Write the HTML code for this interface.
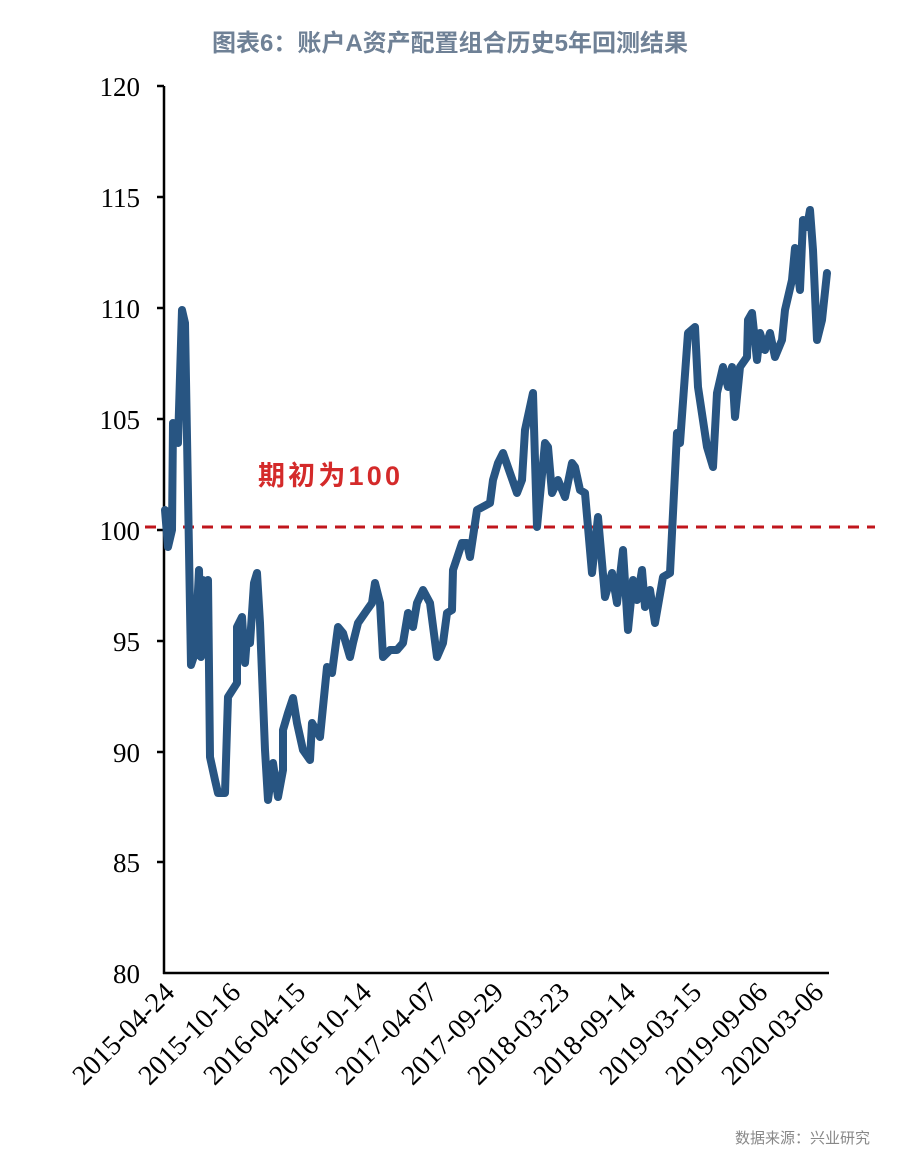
<!DOCTYPE html>
<html><head><meta charset="utf-8"><style>body{margin:0;background:#fff}svg{display:block}</style></head>
<body>
<svg width="900" height="1159" xmlns="http://www.w3.org/2000/svg">
<text x="450" y="51" text-anchor="middle" font-family="Liberation Sans, Noto Sans CJK SC, sans-serif" font-size="24" font-weight="bold" fill="#6f8196">图表6：账户A资产配置组合历史5年回测结果</text>
<g font-family="Liberation Serif, serif" font-size="27" fill="#000" text-anchor="end">
<text x="140" y="96">120</text><text x="140" y="207">115</text><text x="140" y="318">110</text><text x="140" y="429">105</text><text x="140" y="540">100</text><text x="140" y="651">95</text><text x="140" y="762">90</text><text x="140" y="872">85</text><text x="140" y="983">80</text>
</g>
<g stroke="#000" stroke-width="2.5">
<line x1="164" y1="86" x2="164" y2="974"/><line x1="163" y1="973" x2="829" y2="973"/>
<line x1="157" y1="86" x2="164" y2="86"/><line x1="157" y1="197" x2="164" y2="197"/><line x1="157" y1="308" x2="164" y2="308"/><line x1="157" y1="419" x2="164" y2="419"/><line x1="157" y1="530" x2="164" y2="530"/><line x1="157" y1="641" x2="164" y2="641"/><line x1="157" y1="752" x2="164" y2="752"/><line x1="157" y1="862" x2="164" y2="862"/>
</g>
<line x1="145" y1="527" x2="875" y2="527" stroke="#c0161c" stroke-width="3" stroke-dasharray="11,8"/>
<text x="258" y="485" font-family="Liberation Sans, Noto Sans CJK SC, sans-serif" font-size="27" font-weight="bold" fill="#d42a2a" textLength="142">期初为100</text>
<polyline fill="none" stroke="#285582" stroke-width="8" stroke-linejoin="round" stroke-linecap="round" points="165,510 168,547 172,530 173,423 178,443 182,310 185,323 191,665 195,653 199,570 201,657 203,580 205,653 208,580 210,757 215,780 218,793 225,793 228,697 237,683 237,627 242,617 245,663 247,637 250,643 254,583 257,573 260,623 265,750 268,800 273,763 278,797 283,770 283,730 288,713 293,698 297,723 303,750 310,760 312,723 320,737 327,667 332,673 338,627 343,633 350,657 353,643 358,623 367,610 372,603 375,583 380,603 383,657 390,650 397,650 403,643 408,613 413,627 417,603 423,590 430,603 437,657 443,643 447,613 452,610 453,570 462,543 467,543 470,557 477,510 490,503 493,480 498,463 503,453 510,473 517,493 522,480 525,430 533,393 537,527 545,443 548,447 552,493 558,480 565,497 572,463 575,467 580,490 585,493 592,573 598,517 605,597 612,573 617,603 623,550 628,630 633,580 637,600 642,570 645,607 650,590 655,623 663,577 670,573 677,433 680,443 688,333 695,327 698,387 707,447 713,467 717,393 723,367 728,387 732,367 735,417 740,367 747,357 748,320 752,313 757,360 760,333 765,350 770,333 775,357 782,340 785,310 792,280 795,248 800,290 803,220 807,227 810,210 813,250 817,340 822,320 827,273"/>
<g font-family="Liberation Serif, serif" font-size="28" fill="#000" text-anchor="end">
<text transform="translate(176,994) rotate(-45)">2015-04-24</text>
<text transform="translate(242,994) rotate(-45)">2015-10-16</text>
<text transform="translate(307,994) rotate(-45)">2016-04-15</text>
<text transform="translate(373,994) rotate(-45)">2016-10-14</text>
<text transform="translate(439,994) rotate(-45)">2017-04-07</text>
<text transform="translate(505,994) rotate(-45)">2017-09-29</text>
<text transform="translate(571,994) rotate(-45)">2018-03-23</text>
<text transform="translate(637,994) rotate(-45)">2018-09-14</text>
<text transform="translate(703,994) rotate(-45)">2019-03-15</text>
<text transform="translate(769,994) rotate(-45)">2019-09-06</text>
<text transform="translate(825,994) rotate(-45)">2020-03-06</text>
</g>
<text x="870" y="1143" text-anchor="end" font-family="Liberation Sans, Noto Sans CJK SC, sans-serif" font-size="15" fill="#888">数据来源：兴业研究</text>
</svg>
</body></html>
